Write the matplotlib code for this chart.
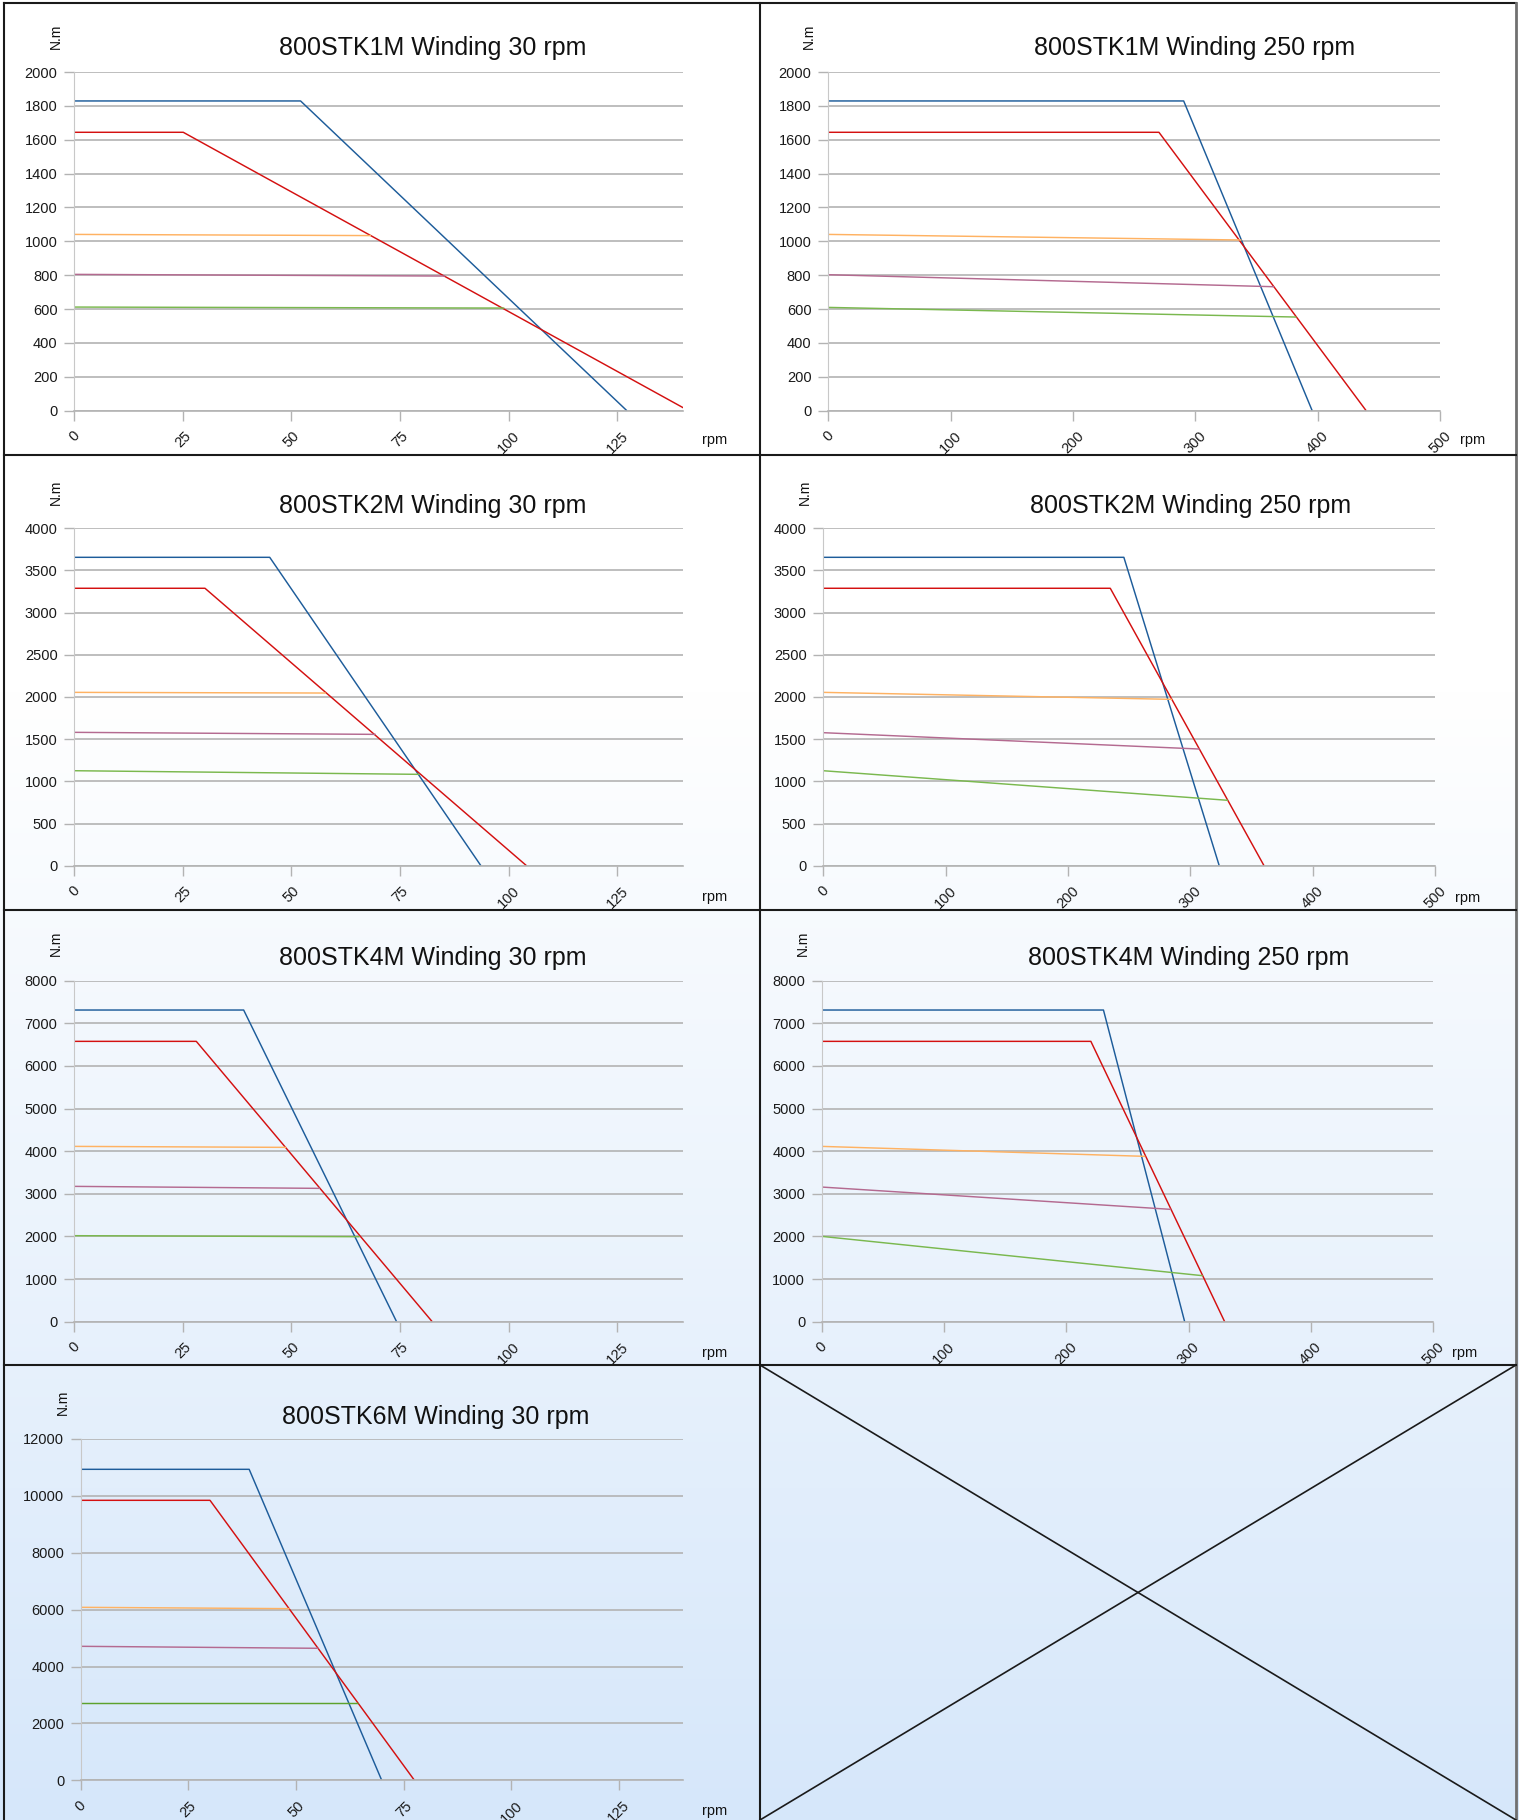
import matplotlib
matplotlib.use("Agg")
import matplotlib.pyplot as plt
import numpy as np
from matplotlib.lines import Line2D

plt.rcParams['font.family'] = ['Liberation Sans', 'DejaVu Sans']

# torque (N.m) vs speed (rpm); series order: blue, red, orange, purple, green
stk1_30_rpm = [[0, 52.1, 127.2], [0, 25.1, 141.4], [0, 68.3], [0, 85.4], [0, 99.0]]
stk1_30_nm = [[1829, 1829, 0], [1644, 1644, 0], [1041, 1034], [805, 795], [612, 606]]

stk1_250_rpm = [[0, 290.5, 395.5], [0, 270.3, 439.6], [0, 337.8], [0, 364.5], [0, 382.7]]
stk1_250_nm = [[1829, 1829, 0], [1644, 1644, 0], [1041, 1008], [803, 732], [610, 553]]

stk2_30_rpm = [[0, 45.0, 93.6], [0, 30.1, 104.1], [0, 57.9], [0, 69.4], [0, 79.5]]
stk2_30_nm = [[3656, 3656, 0], [3289, 3289, 0], [2055, 2047], [1581, 1557], [1126, 1083]]

stk2_250_rpm = [[0, 245.6, 323.5], [0, 234.5, 360.1], [0, 285.0], [0, 307.6], [0, 330.7]]
stk2_250_nm = [[3656, 3656, 0], [3289, 3289, 0], [2055, 1972], [1577, 1383], [1126, 775]]

stk4_30_rpm = [[0, 39.0, 74.2], [0, 28.1, 82.4], [0, 48.8], [0, 56.6], [0, 65.7]]
stk4_30_nm = [[7312, 7312, 0], [6577, 6577, 0], [4113, 4090], [3175, 3128], [2018, 1994]]

stk4_250_rpm = [[0, 230.3, 296.7], [0, 220.0, 329.4], [0, 264.5], [0, 285.6], [0, 311.5]]
stk4_250_nm = [[7312, 7312, 0], [6577, 6577, 0], [4113, 3879], [3159, 2635], [2002, 1079]]

stk6_30_rpm = [[0, 39.1, 69.9], [0, 30.0, 77.5], [0, 48.5], [0, 55.2], [0, 64.5]]
stk6_30_nm = [[10934, 10934, 0], [9844, 9844, 0], [6082, 6035], [4711, 4641], [2707, 2707]]

titles = ["800STK1M Winding 30 rpm", "800STK1M Winding 250 rpm",
          "800STK2M Winding 30 rpm", "800STK2M Winding 250 rpm",
          "800STK4M Winding 30 rpm", "800STK4M Winding 250 rpm",
          "800STK6M Winding 30 rpm"]

colors = ['#1d5c9a', '#d41010', '#ffb262', '#b46a90', '#7ab84e']
grid_c = '#b3b3b3'

W, H = 1519, 1820
fig = plt.figure(figsize=(W / 100, H / 100), dpi=100)

# background: white on top, light blue toward the bottom
bg = fig.add_axes([0, 0, 1, 1], zorder=-5)
yy = np.linspace(0, 1, 400)
t = np.clip((yy - 0.38) / 0.62, 0, 1)
top = np.array([1.0, 1.0, 1.0])
bot = np.array([214, 231, 250]) / 255
grad = top[None, :] * (1 - t[:, None]) + bot[None, :] * t[:, None]
bg.imshow(grad[:, None, :], aspect='auto', extent=[0, 1, 1, 0])
bg.set_xlim(0, 1)
bg.set_ylim(1, 0)
bg.axis('off')


def px_axes(left, top, right, bottom):
    return fig.add_axes([left / W, 1 - bottom / H, (right - left) / W, (bottom - top) / H])


def ftext(x, y, s, **kw):
    fig.text(x / W, 1 - y / H, s, **kw)


panels = [
    # data, box (l, t, r, b), xmax, xstep, ymax, ystep, title x, title baseline, N.m x, N.m y, rpm x, rpm y
    (stk1_30_rpm, stk1_30_nm, (74.2, 72, 682.5, 410.7), 140, 25, 2000, 200, 433, 55, 56, 36, 715, 440),
    (stk1_250_rpm, stk1_250_nm, (828.1, 72, 1440.1, 410.7), 500, 100, 2000, 200, 1195, 55, 809, 36, 1473, 440),
    (stk2_30_rpm, stk2_30_nm, (74.2, 528.3, 682.5, 865.7), 140, 25, 4000, 500, 433, 513, 56, 492, 715, 897),
    (stk2_250_rpm, stk2_250_nm, (823.2, 528.3, 1435.3, 865.7), 500, 100, 4000, 500, 1191, 513, 805, 492, 1468, 898),
    (stk4_30_rpm, stk4_30_nm, (74.2, 980.7, 682.5, 1321.7), 140, 25, 8000, 1000, 433, 965, 56, 943, 715, 1353),
    (stk4_250_rpm, stk4_250_nm, (821.8, 980.7, 1433.3, 1321.7), 500, 100, 8000, 1000, 1189, 965, 803, 943, 1465, 1353),
    (stk6_30_rpm, stk6_30_nm, (80.9, 1439, 683.4, 1780.3), 140, 25, 12000, 2000, 436, 1424, 63, 1402, 715, 1811),
]

for i, p in enumerate(panels):
    xs, ys, box, xmax, xstep, ymax, ystep, tx, ty, nx, ny, rx, ry = p
    ax = px_axes(*box)
    ax.set_facecolor('none')
    for j in range(len(xs)):
        c = colors[j]
        if i == 6 and j == 4:
            c = '#5da22c'
        ax.plot(xs[j], ys[j], color=c, lw=1.05, solid_capstyle='butt')
    ax.set_xlim(0, xmax)
    ax.set_ylim(0, ymax)
    ax.set_xticks(np.arange(0, xmax + 1, xstep))
    ax.set_yticks(np.arange(0, ymax + 1, ystep))
    ax.yaxis.grid(True, color=grid_c, lw=1.2)
    ax.set_axisbelow(True)
    for s in ['top', 'right']:
        ax.spines[s].set_visible(False)
    ax.spines['left'].set_color('#c8c8c8')
    ax.spines['bottom'].set_color(grid_c)
    ax.spines['bottom'].set_linewidth(1.2)
    ax.tick_params(axis='both', colors=grid_c, labelcolor='#1a1a1a', labelsize=10.5,
                   length=7, width=1)
    ax.tick_params(axis='y', pad=5)
    ax.tick_params(axis='x', pad=6)
    for lab in ax.get_xticklabels():
        lab.set_rotation(45)
        lab.set_ha('center')
    ftext(tx, ty, titles[i], ha='center', va='baseline', fontsize=18, color='#111111')
    ftext(nx, ny, "N.m", ha='center', va='center', rotation=90, fontsize=10, color='#111111')
    ftext(rx, ry, "rpm", ha='center', va='center', fontsize=10.5, color='#111111')


def fline(x0, y0, x1, y1, lw=1.5, c='#1a1a1a'):
    fig.add_artist(Line2D([x0 / W, x1 / W], [1 - y0 / H, 1 - y1 / H], color=c, lw=lw,
                          transform=fig.transFigure))


# frame and cell dividers
fline(4, 3, 1516, 3)
fline(4, 3, 4, 1820)
fline(1516, 3, 1516, 1820, c='#707070', lw=2)
fline(760, 3, 760, 1820)
for yd in [455, 910, 1365]:
    fline(4, yd, 1516, yd)
# empty cell crossed out
fline(760, 1365, 1516, 1820, lw=1.2)
fline(760, 1820, 1516, 1365, lw=1.2)

fig.savefig("out.png", dpi=100)
